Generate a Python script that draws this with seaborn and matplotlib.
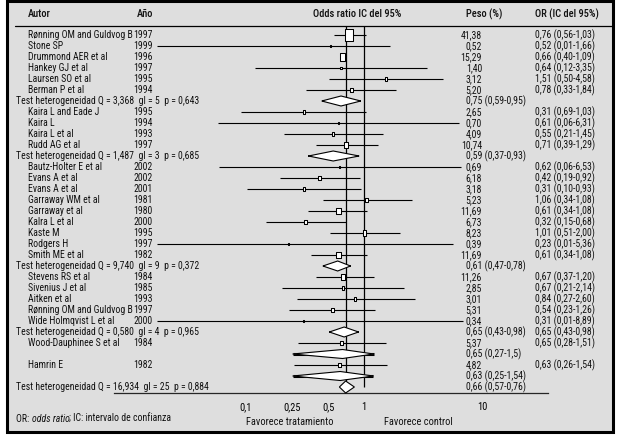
import numpy as np
import pandas as pd
import seaborn as sns
import matplotlib.pyplot as plt
from matplotlib.path import Path
from matplotlib.patches import Rectangle
from matplotlib.ticker import NullLocator

# ---- data ----
authors = [
    "Rønning OM and Guldvog B", "Stone SP", "Drummond AER et al", "Hankey GJ et al",
    "Laursen SO et al", "Berman P et al",
    "Kaira L and Eade J", "Kaira L", "Kaira L et al", "Rudd AG et al",
    "Bautz-Holter E et al", "Evans A et al", "Evans A et al", "Garraway WM et al",
    "Garraway et al", "Kalra L et al", "Kaste M", "Rodgers H", "Smith ME et al",
    "Stevens RS et al", "Sivenius J et al", "Aitken et al", "Rønning OM and Guldvog B",
    "Wide Holmqvist L et al",
    "Wood-Dauphinee S et al", "Hamrin E",
]
years = [1997, 1999, 1996, 1997, 1995, 1994,
         1995, 1994, 1993, 1997,
         2002, 2002, 2001, 1981, 1980, 2000, 1995, 1997, 1982,
         1984, 1985, 1993, 1997, 2000,
         1984, 1982]
weights = [41.38, 0.52, 15.29, 1.40, 3.12, 5.20,
           2.65, 0.70, 4.09, 10.74,
           0.69, 6.18, 3.18, 5.23, 11.69, 6.73, 8.23, 0.39, 11.69,
           11.26, 2.85, 3.01, 5.31, 0.34,
           5.37, 4.82]
or_labels = [
    "0,76 (0,56-1,03)", "0,52 (0,01-1,66)", "0,66 (0,40-1,09)", "0,64 (0,12-3,35)",
    "1,51 (0,50-4,58)", "0,78 (0,33-1,84)",
    "0,31 (0,69-1,03)", "0,61 (0,06-6,31)", "0,55 (0,21-1,45)", "0,71 (0,39-1,29)",
    "0,62 (0,06-6,53)", "0,42 (0,19-0,92)", "0,31 (0,10-0,93)", "1,06 (0,34-1,08)",
    "0,61 (0,34-1,08)", "0,32 (0,15-0,68)", "1,01 (0,51-2,00)", "0,23 (0,01-5,36)",
    "0,61 (0,34-1,08)",
    "0,67 (0,37-1,20)", "0,67 (0,21-2,14)", "0,84 (0,27-2,60)", "0,54 (0,23-1,26)",
    "0,31 (0,01-8,89)",
    "0,65 (0,28-1,51)", "0,63 (0,26-1,54)",
]
# positions of the drawn marks (as they appear in the plot)
est = [0.75, 0.52, 0.66, 0.64, 1.53, 0.78,
       0.31, 0.61, 0.55, 0.71,
       0.62, 0.42, 0.31, 1.05, 0.61, 0.32, 1.01, 0.23, 0.61,
       0.67, 0.67, 0.84, 0.54, 0.31,
       0.65, 0.62]
ci_lo = [0.56, 0.018, np.nan, 0.12, 0.51, 0.325,
         0.092, 0.059, 0.21, 0.39,
         0.06, 0.197, 0.104, 0.45, 0.34, 0.149, 0.52, 0.018, 0.36,
         0.39, 0.205, 0.274, 0.235, 0.018,
         0.28, 0.257]
ci_hi = [1.03, 1.66, np.nan, 3.38, 4.6, 1.85,
         1.03, 6.28, 1.44, 1.30,
         6.58, 0.925, 0.94, 2.52, 1.07, 0.70, 2.0, 5.6, 1.07,
         1.21, 2.16, 2.67, 1.25, 6.8,
         1.53, 1.55]

group_sizes = [6, 4, 9, 5]
test_q = ["3,368", "1,487", "9,740", "0,580", "16,934"]
test_gl = [5, 3, 9, 4, 25]
test_p = ["0,643", "0,685", "0,372", "0,965", "0,884"]
pooled_labels = ["0,75 (0,59-0,95)", "0,59 (0,37-0,93)", "0,61 (0,47-0,78)",
                 "0,65 (0,43-0,98)", "0,66 (0,57-0,76)"]
pooled_est = [0.64, 0.55, 0.60, 0.68, 0.70]
pooled_lo = [0.44, 0.34, 0.45, 0.51, 0.62]
pooled_hi = [0.94, 0.91, 0.77, 0.90, 0.83]

extra_labels = ["0,65 (0,27-1,5)", "0,63 (0,25-1,54)"]
extra_est = [0.66, 0.63]
extra_lo = [0.25, 0.25]
extra_hi = [1.21, 1.20]

ticks = [0.1, 0.25, 0.5, 1, 10]
tick_labels = ["0,1", "0,25", "0,5", "1", "10"]

# ---- layout ----
W, H = 618, 439
X1, DEC = 364.0, 118.6          # pixel of OR=1, pixels per decade
ROW0, STEP = 36.0, 11.0
FS = 7

def px2or(px):
    return 10 ** ((px - X1) / DEC)

rows = []
s = 0
for g, n in enumerate(group_sizes):
    for k in range(n):
        rows.append(("study", s))
        s += 1
    rows.append(("test", g))
rows += [("study", 24), ("extra", 0), ("study", 25), ("extra", 1), ("test", 4)]

study_y = np.zeros(len(authors))
test_y = np.zeros(len(test_q))
extra_y = np.zeros(len(extra_labels))
for i, (kind, idx) in enumerate(rows):
    y = ROW0 + STEP * i
    {"study": study_y, "test": test_y, "extra": extra_y}[kind][idx] = y

sns.set_style("white")
plt.rcParams['font.family'] = ['Roboto Condensed', 'Archivo Narrow', 'Liberation Sans', 'DejaVu Sans']

fig = plt.figure(figsize=(W / 100, H / 100), dpi=100)
fig.patch.set_facecolor("white")

bg = fig.add_axes([0, 0, 1, 1])
bg.set_xlim(0, W)
bg.set_ylim(H, 0)
bg.axis("off")
bg.add_patch(Rectangle((6.5, 1.8), 606.5, 431.5, facecolor="#dedede",
                       edgecolor="black", linewidth=2.2))

ax = fig.add_axes([0, 0, 1, 1], facecolor="none")
ax.set_xscale("log")

# CI lines
ax.hlines(study_y, ci_lo, ci_hi, color="black", linewidth=0.8, zorder=2)

# study boxes (area proportional to weight)
box = Path([(-0.33, -0.5), (0.33, -0.5), (0.33, 0.5), (-0.33, 0.5), (-0.33, -0.5)],
           [Path.MOVETO, Path.LINETO, Path.LINETO, Path.LINETO, Path.CLOSEPOLY])
df = pd.DataFrame({"est": est, "y": study_y, "w": weights})
wmax = max(weights)
sns.scatterplot(data=df, x="est", y="y", size="w", sizes=(0, 1.8 * wmax),
                size_norm=(0, wmax), marker=box, color="white", edgecolor="black",
                linewidth=0.75, legend=False, ax=ax, zorder=4)

# pooled diamonds
def diamond(y, lo, mid, hi, h, tail):
    if tail:
        ax.hlines(y, lo, hi, color="black", linewidth=tail, zorder=3)
    ax.fill([lo, mid, hi, mid], [y, y - h, y, y + h], facecolor="white",
            edgecolor="black", linewidth=0.8, zorder=4)

for g in range(len(test_y)):
    last = g == len(test_y) - 1
    diamond(test_y[g], pooled_lo[g], pooled_est[g], pooled_hi[g],
            6 if last else 5, 0 if last else 1.4)
for e in range(len(extra_y)):
    diamond(extra_y[e], extra_lo[e], extra_est[e], extra_hi[e], 4.5, 2.2)

# reference lines
ax.vlines(1, 27, test_y[-1], color="black", linewidth=0.9, zorder=3)
ax.vlines(pooled_est[-1], 27, test_y[-1] - 6, color="black", linewidth=0.9, zorder=3)

ax.set_xlim(px2or(0), px2or(W))
ax.set_ylim(H, 0)
ax.set_xlabel("")
ax.set_ylabel("")
for side in ["left", "top", "right"]:
    ax.spines[side].set_visible(False)
ax.spines["bottom"].set_position(("data", 394.5))
ax.spines["bottom"].set_bounds(px2or(114), px2or(548))
ax.spines["bottom"].set_linewidth(0.9)
ax.set_xticks(ticks, tick_labels)
ax.xaxis.set_minor_locator(NullLocator())
ax.set_yticks([])
ax.tick_params(axis="x", direction="out", length=4, width=0.9, pad=1.5,
               labelsize=FS + 0.5, colors="black")

# ---- text columns ----
txt = dict(fontsize=FS, va="center", color="#111111")
hdr = dict(txt, fontsize=FS + 0.5, weight="medium")
bg.text(28, 14, "Autor", **hdr)
bg.text(137, 14, "Año", **hdr)
bg.text(357, 14, "Odds ratio IC del 95%", ha="center", **hdr)
bg.text(466, 14, "Peso (%)", **hdr)
bg.text(535, 14, "OR (IC del 95%)", **hdr)
bg.plot([15, 612], [26.5, 26.5], color="black", linewidth=0.9)

for i in range(len(authors)):
    y = study_y[i] - 1
    bg.text(28, y, authors[i], **txt)
    bg.text(133, y, str(years[i]), **txt)
    bg.text(482, y, f"{weights[i]:.2f}".replace(".", ","), ha="right", **txt)
    bg.text(535, y, or_labels[i], **txt)

for g in range(len(test_y)):
    y = test_y[g] - 1
    bg.text(16, y, f"Test heterogeneidad Q = {test_q[g]}  gl = {test_gl[g]}  p = {test_p[g]}", **txt)
    bg.text(466, y, pooled_labels[g], **txt)
bg.text(535, test_y[3] - 1, pooled_labels[3], **txt)

for e in range(len(extra_y)):
    bg.text(466, extra_y[e] - 1, extra_labels[e], **txt)

bg.text(290, 422, "Favorece tratamiento", ha="center", **dict(txt, fontsize=FS + 0.5))
bg.text(418, 422, "Favorece control", ha="center", **dict(txt, fontsize=FS + 0.5))

t1 = bg.text(16, 419, "OR: ", **txt)
t2 = bg.annotate("odds ratio", xy=(1, 0.5), xycoords=t1, va="center",
                 fontsize=FS, style="italic", color="#111111")
bg.annotate("; IC: intervalo de confianza", xy=(1, 0.5), xycoords=t2, va="center",
            fontsize=FS, color="#111111")

fig.savefig("out.png", dpi=100)
